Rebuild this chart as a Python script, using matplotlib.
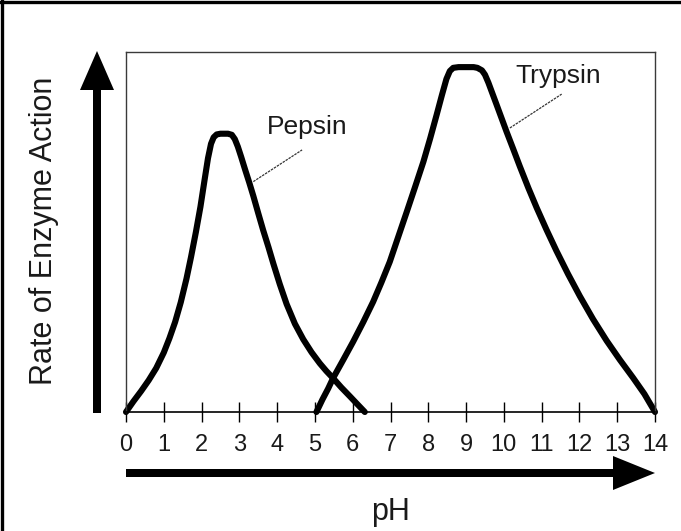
import matplotlib

matplotlib.use("Agg")
import matplotlib.pyplot as plt
from matplotlib.patches import FancyArrow


# values (pH, relative rate 0..1)
PEPSIN_PH = [0.0, 0.2, 0.4, 0.6, 0.8, 1.0, 1.15, 1.3, 1.45, 1.6, 1.72, 1.85,
             1.97, 2.08, 2.17, 2.25, 2.32, 2.4, 2.5, 2.7, 2.8, 2.88, 2.96,
             3.05, 3.15, 3.26, 3.37, 3.5, 3.63, 3.77, 3.9, 4.07, 4.25, 4.47,
             4.69, 4.91, 5.13, 5.3, 5.48, 5.7, 5.93, 6.12, 6.32]
PEPSIN_RATE = [0.0, 0.03, 0.058, 0.088, 0.122, 0.165, 0.205, 0.25, 0.305,
               0.37, 0.43, 0.5, 0.57, 0.645, 0.705, 0.745, 0.763, 0.771,
               0.773, 0.773, 0.77, 0.758, 0.737, 0.708, 0.674, 0.638, 0.6,
               0.552, 0.505, 0.458, 0.412, 0.355, 0.3, 0.245, 0.202, 0.166,
               0.135, 0.114, 0.094, 0.068, 0.043, 0.022, 0.0]

TRYPSIN_PH = [5.04, 5.2, 5.35, 5.48, 5.75, 6.01, 6.28, 6.54, 6.76, 6.98, 7.2,
              7.43, 7.65, 7.87, 8.05, 8.22, 8.36, 8.48, 8.57, 8.66, 8.8, 9.2,
              9.3, 9.42, 9.5, 9.59, 9.7, 9.81, 9.94, 10.07, 10.25, 10.42,
              10.65, 10.87, 11.13, 11.39, 11.7, 12.01, 12.36, 12.72, 13.07,
              13.42, 13.72, 14.0]
TRYPSIN_RATE = [0.0, 0.035, 0.065, 0.094, 0.145, 0.195, 0.25, 0.306, 0.36,
                0.417, 0.485, 0.556, 0.625, 0.695, 0.76, 0.825, 0.88, 0.925,
                0.947, 0.956, 0.958, 0.958, 0.956, 0.949, 0.937, 0.915, 0.884,
                0.853, 0.816, 0.779, 0.73, 0.683, 0.622, 0.567, 0.506, 0.448,
                0.383, 0.322, 0.258, 0.198, 0.145, 0.095, 0.05, 0.0]

PH_TICKS = list(range(15))
PH_TICK_LABELS = [str(value) for value in PH_TICKS]

# label anchors and leader lines (pH, rate)
PEPSIN_LABEL = (4.79, 0.772)
PEPSIN_LEADER = ([3.37, 4.66], [0.64, 0.728])
TRYPSIN_LABEL = (11.43, 0.914)
TRYPSIN_LEADER = ([10.16, 11.53], [0.789, 0.883])

FONT = ["Liberation Sans", "DejaVu Sans"]
FIG_W, FIG_H = 681, 531


def draw_frame(fig):
    # pixel-space overlay for the page border and the two big arrows
    overlay = fig.add_axes([0, 0, 1, 1])
    overlay.set_xlim(0, FIG_W)
    overlay.set_ylim(FIG_H, 0)
    overlay.axis("off")

    overlay.plot([1.5, 1.5], [0, FIG_H], color="black", lw=2.4)
    overlay.plot([0, FIG_W], [1.5, 1.5], color="black", lw=2.4)

    overlay.add_patch(
        FancyArrow(126, 473, 655 - 126, 0, width=8, head_width=34,
                   head_length=42, length_includes_head=True,
                   color="black", lw=0)
    )
    overlay.add_patch(
        FancyArrow(97, 413, 0, 51 - 413, width=8, head_width=34,
                   head_length=39, length_includes_head=True,
                   color="black", lw=0)
    )
    return overlay


def plot_enzymes(output_path):
    fig = plt.figure(figsize=(FIG_W / 100, FIG_H / 100), dpi=100)
    draw_frame(fig)

    left, right, top, bottom = 126, 655, 52, 412
    ax = fig.add_axes([
        left / FIG_W,
        1 - bottom / FIG_H,
        (right - left) / FIG_W,
        (bottom - top) / FIG_H,
    ])
    ax.set_facecolor("none")
    ax.set_xlim(0, 14)
    ax.set_ylim(0, 1)

    for name in ("top", "left", "right"):
        ax.spines[name].set_color("#3a3a3a")
        ax.spines[name].set_linewidth(1.0)
    ax.spines["bottom"].set_color("black")
    ax.spines["bottom"].set_linewidth(1.2)

    ax.set_yticks([])
    ax.set_xticks(PH_TICKS)
    ax.set_xticklabels(PH_TICK_LABELS, family=FONT, fontsize=17, color="#1a1a1a")
    ax.tick_params(axis="x", direction="inout", length=15, width=1.0,
                   pad=8, color="black")

    curve_style = dict(color="black", lw=4.4, solid_capstyle="round",
                       solid_joinstyle="round", clip_on=False)
    ax.plot(PEPSIN_PH, PEPSIN_RATE, **curve_style)
    ax.plot(TRYPSIN_PH, TRYPSIN_RATE, **curve_style)

    leader_style = dict(color="#333333", lw=0.9, linestyle=(0, (2, 0.8)))
    ax.plot(*PEPSIN_LEADER, **leader_style)
    ax.plot(*TRYPSIN_LEADER, **leader_style)

    ax.text(*PEPSIN_LABEL, "Pepsin", family=FONT, fontsize=19,
            color="#1a1a1a", ha="center", va="baseline")
    ax.text(*TRYPSIN_LABEL, "Trypsin", family=FONT, fontsize=19,
            color="#1a1a1a", ha="center", va="baseline")

    fig.text(391 / FIG_W, 1 - 520 / FIG_H, "pH", family=FONT, fontsize=22,
             color="#1a1a1a", ha="center", va="baseline")
    fig.text(52 / FIG_W, 1 - 231 / FIG_H, "Rate of Enzyme Action", family=FONT,
             fontsize=22, color="#1a1a1a", ha="center", va="baseline",
             rotation=90, rotation_mode="anchor")

    fig.savefig(output_path, dpi=100)
    plt.close(fig)


if __name__ == "__main__":
    plot_enzymes("out.png")
